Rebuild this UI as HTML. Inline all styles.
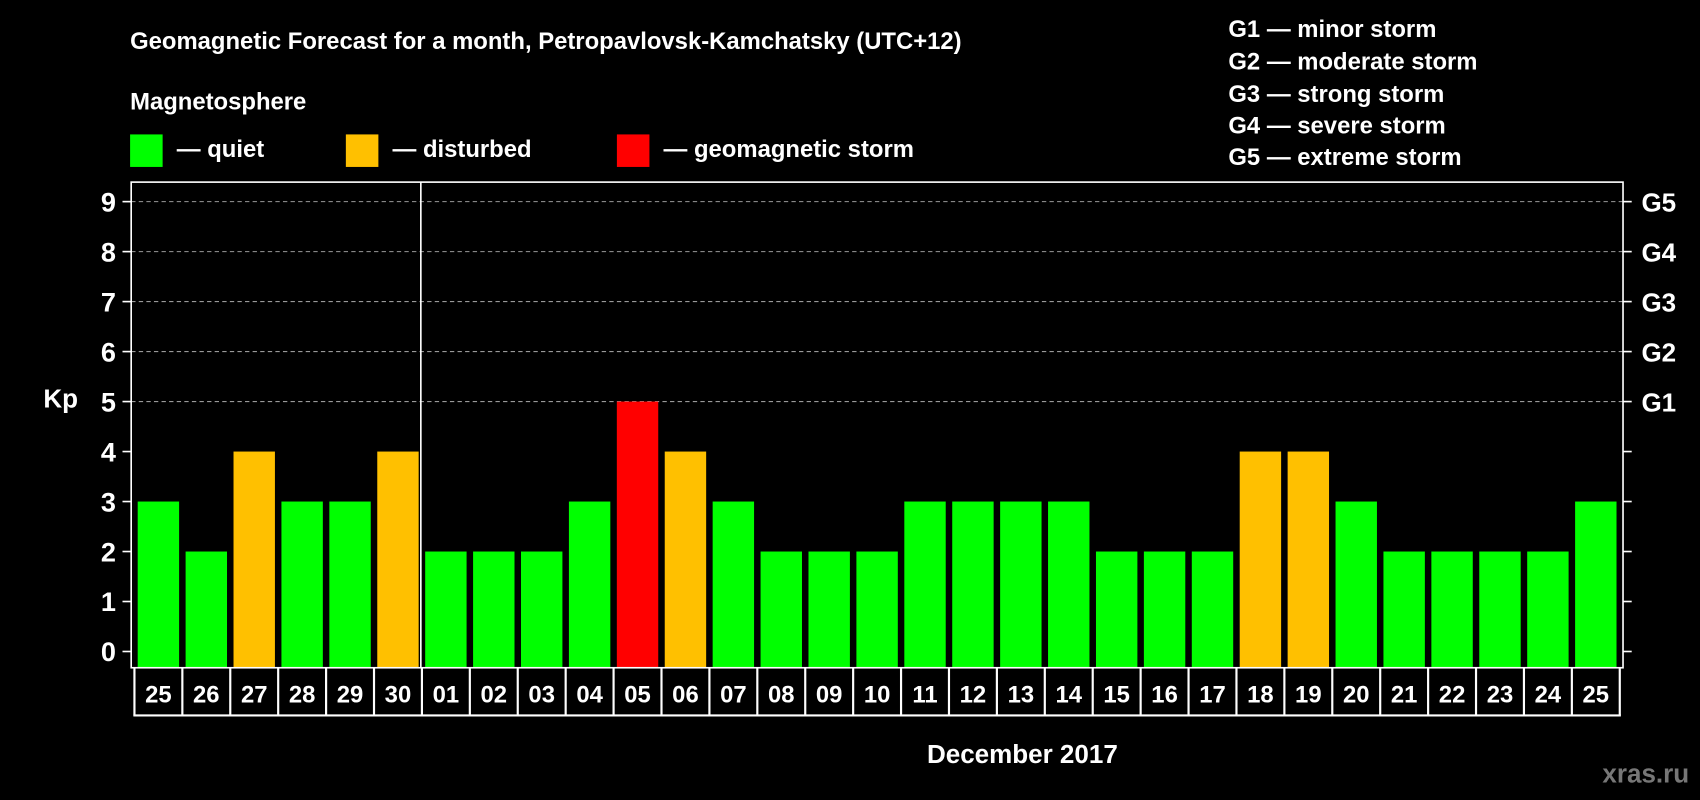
<!DOCTYPE html>
<html><head><meta charset="utf-8"><style>html,body{margin:0;background:#000;}svg{display:block}text{font-family:"Liberation Sans",sans-serif;font-weight:bold;fill:#fff}</style></head>
<body>
<svg id="chart" width="1700" height="800" viewBox="0 0 1568 738" preserveAspectRatio="none" xmlns="http://www.w3.org/2000/svg">
<rect width="1568" height="738" fill="#000"/>
<text x="120" y="45" font-size="22">Geomagnetic Forecast for a month, Petropavlovsk-Kamchatsky (UTC+12)</text>
<text x="120" y="101" font-size="22">Magnetosphere</text>
<rect x="120" y="124" width="30" height="30" fill="#00ff00"/>
<text x="163" y="145" font-size="22">— quiet</text>
<rect x="319" y="124" width="30" height="30" fill="#ffc000"/>
<text x="362" y="145" font-size="22">— disturbed</text>
<rect x="569" y="124" width="30" height="30" fill="#ff0000"/>
<text x="612" y="145" font-size="22">— geomagnetic storm</text>
<g font-size="22">
<text x="1133" y="34">G1 — minor storm</text>
<text x="1133" y="64">G2 — moderate storm</text>
<text x="1133" y="94">G3 — strong storm</text>
<text x="1133" y="123">G4 — severe storm</text>
<text x="1133" y="152">G5 — extreme storm</text>
</g>
<g id="plot"></g>
<text x="40" y="376" font-size="24">Kp</text>
<text x="943" y="704" font-size="24" text-anchor="middle">December 2017</text>
<text x="1558" y="722" font-size="24" text-anchor="end" style="fill:#777">xras.ru</text>
</svg>
<script>
const days=["25","26","27","28","29","30","01","02","03","04","05","06","07","08","09","10","11","12","13","14","15","16","17","18","19","20","21","22","23","24","25"];
const kp=[3,2,4,3,3,4,2,2,2,3,5,4,3,2,2,2,3,3,3,3,2,2,2,4,4,3,2,2,2,2,3];
const yTicks=[0,1,2,3,4,5,6,7,8,9];
const gLabels=["G1","G2","G3","G4","G5"];
const NS="http://www.w3.org/2000/svg";
const g=document.getElementById('plot');
const L=121,R=1497,T=168,B=616,y0=601,unit=(601-186)/9;
const pitch=(R-L-6)/days.length,x0=L+3;
const y=v=>y0-v*unit;
const x=i=>x0+i*pitch;
function mk(t,a){const e=document.createElementNS(NS,t);for(const k in a)e.setAttribute(k,a[k]);g.appendChild(e);return e;}
// grid
for(const v of yTicks){
 if(v>=5){const l=mk('line',{x1:L,x2:R,y1:y(v),y2:y(v),stroke:'#999','stroke-dasharray':'4 3','stroke-width':1});
 
 }
 const tl=mk('line',{x1:L-8,x2:L,y1:y(v),y2:y(v),stroke:'#fff','stroke-width':1.5});
 
 
 const tr=mk('line',{x1:R,x2:R+8,y1:y(v),y2:y(v),stroke:'#fff','stroke-width':1.5});
 
 
 const t=mk('text',{x:L-14,y:y(v)+9,'font-size':25,'text-anchor':'end'});t.textContent=v;
 
 
}
gLabels.forEach((s,i)=>{const t=mk('text',{x:R+17,y:y(5+i)+9,'font-size':24});t.textContent=s;
 
 });
// bars
kp.forEach((v,i)=>{const c=v>=5?'#ff0000':v>=4?'#ffc000':'#00ff00';
 const r=mk('rect',{x:x(i)+3,y:y(v),width:pitch-6,height:B-y(v),fill:c});
 
 
 const t=mk('text',{x:x(i)+pitch/2,y:648,'font-size':22,'text-anchor':'middle'});t.textContent=days[i];
 
 
 const d=mk('line',{x1:x(i),x2:x(i),y1:B,y2:660,stroke:'#fff','stroke-width':2});
 
 
});
const last=mk('line',{x1:x(days.length),x2:x(days.length),y1:B,y2:660,stroke:'#fff','stroke-width':2});


const bl=mk('line',{x1:x(0)-1,x2:x(days.length)+1,y1:660,y2:660,stroke:'#fff','stroke-width':2});


const fr=mk('rect',{x:L,y:T,width:R-L,height:B-T,fill:'none',stroke:'#fff','stroke-width':1.5});


const mon=mk('line',{x1:x(6)-1,x2:x(6)-1,y1:T,y2:B,stroke:'#fff','stroke-width':1.5});


</script>
</body></html>
